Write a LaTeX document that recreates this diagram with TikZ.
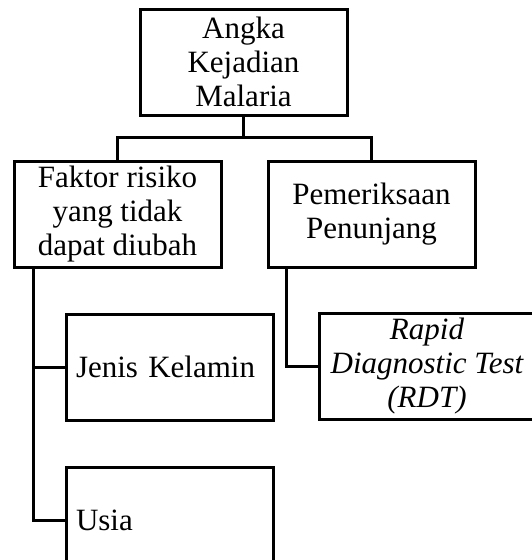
\documentclass[tikz,border=0pt]{standalone}
\usepackage{fontspec}
\setmainfont{Liberation Serif}
\usetikzlibrary{positioning}
\tikzset{
    kotak/.style={draw, line width=3pt, minimum width=207pt, minimum height=106pt,
        inner sep=4pt, align=center, font=\fontsize{31}{34}\selectfont},
    kotakkiri/.style={kotak, text width=187pt, inner sep=10pt, align=left},
    garis/.style={line width=3pt}
}
\begin{document}
\begin{tikzpicture}[x=1pt,y=1pt]
    \clip (0,0) rectangle (532,-560);
    \node[kotak] (kejadian) at (243.5,-62) {Angka\\Kejadian\\Malaria};
    \coordinate[below=21pt of kejadian.south] (cabang);
    \node[kotak, below=43pt of kejadian, xshift=-126pt] (faktor) {Faktor risiko\\yang tidak\\dapat diubah};
    \node[kotak, right=44pt of faktor] (penunjang) {Pemeriksaan\\Penunjang};
    \node[kotakkiri, below=44pt of faktor, xshift=52pt] (kelamin) {Jenis Kelamin};
    \node[kotakkiri, below=44pt of kelamin] (usia) {Usia};
    \node[kotak, minimum width=216pt, below=43pt of penunjang.south west, anchor=north west,
        xshift=51pt, font=\fontsize{31}{34}\selectfont\itshape] (rdt) {Rapid\\Diagnostic Test\\(RDT)};

    \draw[garis] (kejadian) -- (cabang);
    \draw[garis] (faktor) |- (cabang) -| (penunjang);
    \draw[garis] ([xshift=21pt]faktor.south west) |- (kelamin);
    \draw[garis] ([xshift=21pt]faktor.south west) |- (usia);
    \draw[garis] ([xshift=20pt]penunjang.south west) |- (rdt);
\end{tikzpicture}
\end{document}
